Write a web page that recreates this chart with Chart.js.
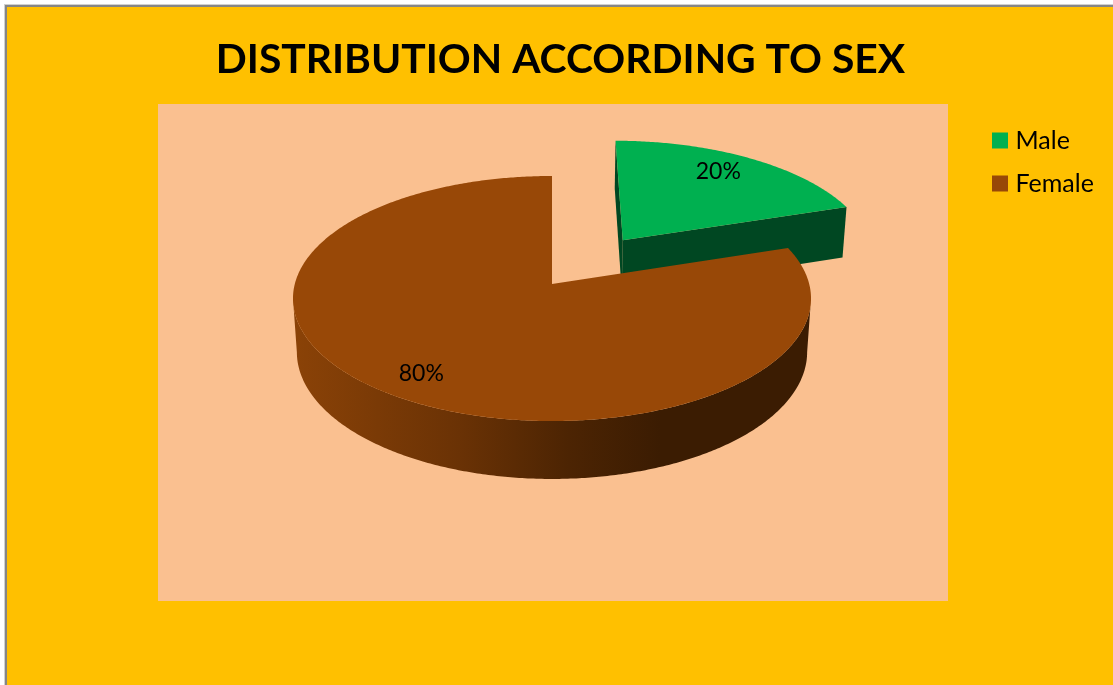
<!DOCTYPE html>
<html>
<head>
<meta charset="utf-8">
<title>Distribution according to sex</title>
<script src="https://cdn.jsdelivr.net/npm/chart.js@4"></script>
<style>
    html, body { margin: 0; padding: 0; background: #fff; overflow: hidden; }
    #wrap { position: absolute; left: 0; top: 0; width: 1113px; height: 685px; }
</style>
</head>
<body>
<div id="wrap"><canvas id="myChart" width="1113" height="685"></canvas></div>
<script>
const categories = ['Male', 'Female'];
const shares = [20, 80];
const sliceColors = ['#00B050', '#984807'];
const wallColors = ['#004722', null];
const explode = [0.476, 0];
const explodeTurn = 0.02;
const labelRadius = [0.80, 0.825];
const labelTurn = [-0.047, -0.026];

// perspective camera for the tilted disc, in pixels from the pie centre
const cam = { cx: 552, cy: 284, a: 120.8, b: 257.2, p: 0.1184, q: -0.015, depth: 54 };

function project(x, y, z) {
    let w = 1 - cam.p * y - cam.q * z;
    return {
        x: cam.cx + cam.b * x / w,
        y: cam.cy + (cam.a * y + cam.depth * z) / w
    };
}

// point on the disc at angle, pushed out along the slice's middle angle
function discPoint(angle, r, mid, off, z) {
    let dir = mid + explodeTurn;
    return project(r * Math.cos(angle) + off * Math.cos(dir), r * Math.sin(angle) + off * Math.sin(dir), z);
}

function polygon(ctx, pts, fill) {
    ctx.beginPath();
    pts.forEach((pt, i) => i ? ctx.lineTo(pt.x, pt.y) : ctx.moveTo(pt.x, pt.y));
    ctx.closePath();
    ctx.fillStyle = fill;
    ctx.fill();
}

function arcPoints(start, end, mid, off, z) {
    let pts = [];
    let n = Math.ceil((end - start) / 0.01);
    for (let i = 0; i <= n; i++) {
        pts.push(discPoint(start + (end - start) * i / n, 1, mid, off, z));
    }
    return pts;
}

const pie3d = {
    id: 'pie3d',
    afterLayout(chart) {
        // legend sits beside the plot, title is centred a little right of the canvas middle
        chart.legend.left = 979;
        chart.legend.top = 110;
        chart.titleBlock.left += 8;
    },
    beforeDraw(chart) {
        let ctx = chart.ctx;
        ctx.save();
        ctx.fillStyle = '#fff';
        ctx.fillRect(0, 0, 1113, 685);
        ctx.fillStyle = '#d0d0d0';
        ctx.fillRect(4, 4, 1109, 681);
        ctx.fillStyle = '#868686';
        ctx.fillRect(5, 5, 1108, 680);
        ctx.fillStyle = '#FFC000';
        ctx.fillRect(7, 7, 1106, 678);
        ctx.fillStyle = '#FAC090';
        ctx.fillRect(158, 104, 790, 497);
        ctx.restore();
    },
    beforeDatasetsDraw(chart) {
        let ctx = chart.ctx;
        let arcs = chart.getDatasetMeta(0).data;
        ctx.save();
        arcs.forEach((el, i) => {
            let start = el.startAngle, end = el.endAngle;
            let mid = (start + end) / 2;
            let off = explode[i];
            let apexTop = discPoint(0, 0, mid, off, 0);
            let apexBottom = discPoint(0, 0, mid, off, 1);

            if (wallColors[i]) {
                // cut faces of the pulled-out slice
                [start, end].forEach(angle => {
                    polygon(ctx, [apexTop, discPoint(angle, 1, mid, off, 0), discPoint(angle, 1, mid, off, 1), apexBottom], wallColors[i]);
                });
            } else {
                // rounded front wall only, between the two points where the rim turns away
                let from = Math.max(start, cam.p);
                let to = Math.min(end, Math.PI - cam.p);
                let wall = ctx.createLinearGradient(296, 0, 660, 0);
                wall.addColorStop(0, '#8A4207');
                wall.addColorStop(0.45, '#6A3205');
                wall.addColorStop(0.75, '#4C2403');
                wall.addColorStop(1, '#3B1C02');
                let top = arcPoints(from, to, mid, off, 0);
                let bottom = arcPoints(from, to, mid, off, 1).reverse();
                polygon(ctx, top.concat(bottom), wall);
            }

            let face = arcPoints(start, end, mid, off, 0);
            polygon(ctx, [apexTop].concat(face), sliceColors[i]);
        });

        // value labels sit on the top face of each slice
        ctx.fillStyle = '#000';
        ctx.font = '23px Lato';
        ctx.textAlign = 'center';
        ctx.textBaseline = 'middle';
        let total = shares.reduce((s, v) => s + v, 0);
        arcs.forEach((el, i) => {
            let mid = (el.startAngle + el.endAngle) / 2;
            let pt = discPoint(mid + labelTurn[i], labelRadius[i], mid, explode[i], 0);
            ctx.fillText(Math.round(shares[i] / total * 100) + '%', pt.x, pt.y);
        });
        ctx.restore();
        return false;
    }
};

let myChart = new Chart(document.getElementById('myChart').getContext('2d'), {
    type: 'pie',
    data: {
        labels: categories,
        datasets: [{
            data: shares,
            backgroundColor: sliceColors,
            borderWidth: 0
        }]
    },
    plugins: [pie3d],
    options: {
        responsive: false,
        animation: false,
        plugins: {
            tooltip: { enabled: false },
            title: {
                display: true,
                text: 'DISTRIBUTION ACCORDING TO SEX',
                color: '#000',
                font: { family: 'Lato', size: 40.8, weight: 'bold' },
                padding: { top: 35, bottom: 28 }
            },
            legend: {
                position: 'right',
                align: 'start',
                labels: {
                    color: '#000',
                    font: { family: 'Lato', size: 25 },
                    // small box plus a thick stroke keeps the text close to the swatch
                    boxWidth: 6,
                    boxHeight: 6,
                    padding: 18,
                    generateLabels: () => categories.map((name, i) => ({
                        text: name,
                        fillStyle: sliceColors[i],
                        strokeStyle: sliceColors[i],
                        lineWidth: 10,
                        index: i
                    }))
                }
            }
        }
    }
});
</script>
</body>
</html>
